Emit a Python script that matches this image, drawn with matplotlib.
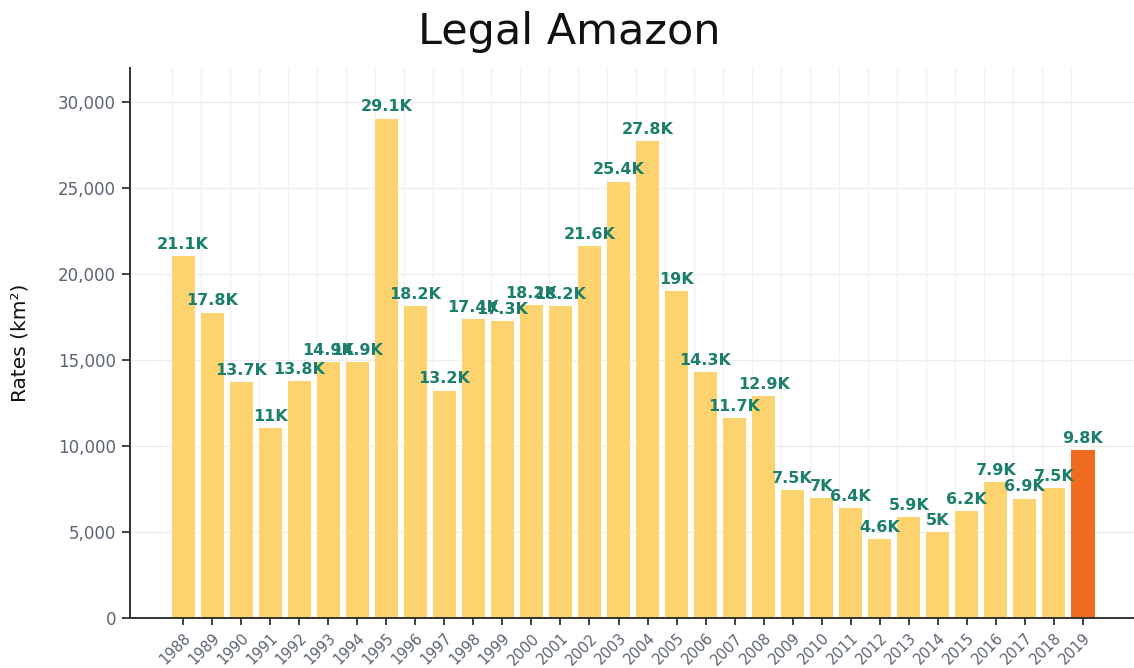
import numpy as np
import matplotlib
matplotlib.use("Agg")
import matplotlib.pyplot as plt

years = list(range(1988, 2020))
rates = [21050, 17770, 13730, 11030, 13786, 14896, 14896, 29059, 18161, 13227,
         17383, 17259, 18226, 18165, 21620, 25396, 27772, 19014, 14286, 11651,
         12911, 7464, 7000, 6418, 4571, 5891, 5012, 6207, 7893, 6947, 7536, 9762]
highlight_year = 2019

BAR = "#fdd36f"
HIGHLIGHT = "#ee6b1f"
LABEL = "#1c7f6c"
TICK = "#5c6473"


def fmt_k(v):
    s = f"{round(v / 1000, 1):.1f}"
    if s.endswith(".0"):
        s = s[:-2]
    return s + "K"


fig = plt.figure(figsize=(11.34, 6.68), dpi=100)
ax = fig.add_axes([130 / 1134, 50 / 668, 1 - 130 / 1134, 550 / 668])

x = np.arange(len(years))
colors = [HIGHLIGHT if y == highlight_year else BAR for y in years]
ax.bar(x, rates, width=0.8, color=colors, zorder=2)

# value labels overlap a bit where neighbours are close, same as the original
for xi, v in zip(x, rates):
    ax.annotate(fmt_k(v), (xi, v), xytext=(0, 3), textcoords="offset points",
                ha="center", va="bottom", fontsize=11.5, fontweight="bold",
                color=LABEL, zorder=3)

ax.set_xlim(-1.83, 32.76)
ax.set_ylim(0, 32000)

ax.set_xticks(x)
ax.set_xticklabels([str(y) for y in years], rotation=45, ha="right",
                   rotation_mode="anchor", fontsize=10.5, color=TICK)
ax.set_xticks(x - 0.4, minor=True)
ax.set_yticks(np.arange(0, 30001, 5000))
ax.set_yticklabels([f"{v:,}" for v in range(0, 30001, 5000)],
                   fontsize=12, color=TICK)

ax.tick_params(axis="x", which="major", length=5, width=1.3, color="#333333", pad=4)
ax.tick_params(axis="x", which="minor", length=0)
ax.tick_params(axis="y", length=6, width=1.3, color="#333333", pad=4)

ax.grid(True, axis="y", which="major", color="#efefef", lw=1, zorder=0)
ax.grid(True, axis="x", which="minor", color="#f2f2f2", lw=1, zorder=0)

for side in ("top", "right"):
    ax.spines[side].set_visible(False)
for side in ("left", "bottom"):
    ax.spines[side].set_color("#333333")
    ax.spines[side].set_linewidth(1.4)

ax.set_ylabel("Rates (km²)", fontsize=14.5, color="#111111")
ax.yaxis.set_label_coords(-0.1, 0.5)

fig.text(0.502, 0.952, "Legal Amazon", ha="center", va="center", fontsize=31,
         color="#111111")

fig.savefig("out.png", dpi=100)
